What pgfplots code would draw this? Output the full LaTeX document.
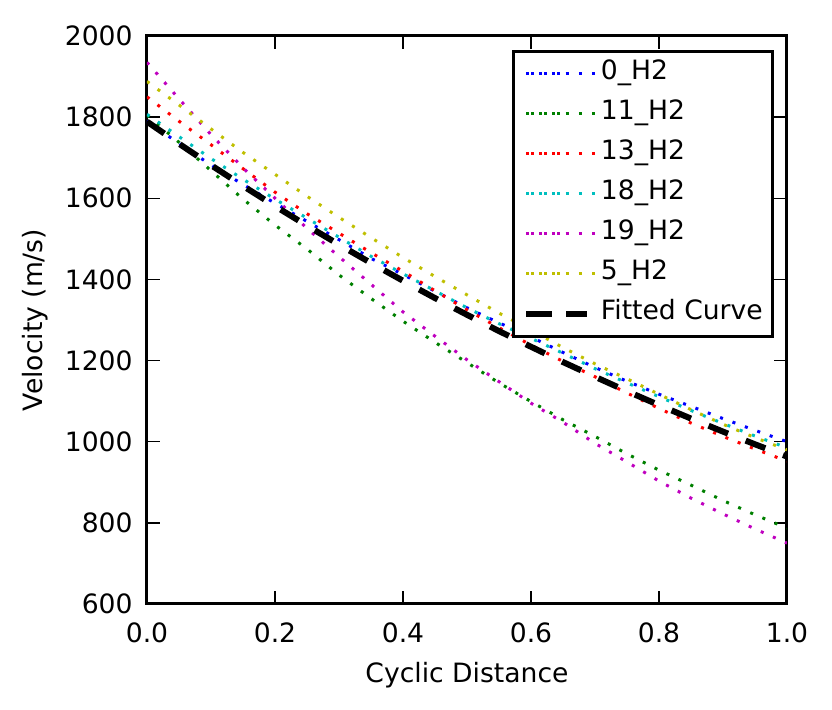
\documentclass[border=0pt]{standalone}
\usepackage{fontspec}
\setmainfont{DejaVu Sans}
\usepackage{pgfplots}
\pgfplotsset{compat=1.18}
\definecolor{mplb}{rgb}{0,0,1}
\definecolor{mplg}{rgb}{0,0.5,0}
\definecolor{mplr}{rgb}{1,0,0}
\definecolor{mplc}{rgb}{0,0.75,0.75}
\definecolor{mplm}{rgb}{0.75,0,0.75}
\definecolor{mply}{rgb}{0.75,0.75,0}
\begin{document}
\fontsize{13.3}{16}\selectfont
\begin{tikzpicture}
\useasboundingbox (-73.5pt,-53pt) rectangle (342.5pt,302pt);
\begin{axis}[
  at={(0,0)}, anchor=south west,
  scale only axis, width=320pt, height=284pt,
  xmin=0, xmax=1, ymin=600, ymax=2000,
  xtick={0,0.2,0.4,0.6,0.8,1}, xticklabels={0.0,0.2,0.4,0.6,0.8,1.0},
  ytick={600,800,1000,1200,1400,1600,1800,2000},
  yticklabels={600,800,1000,1200,1400,1600,1800,2000},
  tick align=inside, tick pos=both, minor tick num=0,
  major tick length=6.5pt,
  every tick/.style={black, line width=0.7pt},
  axis line style={black, line width=1.5pt},
  xticklabel style={anchor=base, inner sep=0pt, yshift=-19.35pt, font=\fontsize{13.3}{16}\selectfont},
  yticklabel style={anchor=east, inner sep=0pt, xshift=-7pt, font=\fontsize{13.3}{16}\selectfont},
  xlabel={Cyclic Distance}, ylabel={Velocity (m/s)},
  every axis x label/.style={at={(axis description cs:0.5,0)}, anchor=center, yshift=-35.5pt, font=\fontsize{13.3}{16}\selectfont},
  every axis y label/.style={at={(axis description cs:0,0.5)}, xshift=-56pt, anchor=center, rotate=90, font=\fontsize{13.3}{16}\selectfont},
  legend cell align=left,
  legend image code/.code={\draw[#1] (0pt,0pt) -- (15pt,0pt); \path (-2.5pt,0pt) -- (33.5pt,0pt);},
  legend style={at={(1,1)}, anchor=north east, xshift=-6.35pt, yshift=-7pt,
    draw=black, line width=1.5pt, inner xsep=5pt, inner ysep=1.25pt,
    row sep=0pt, font=\fontsize{13.3}{16}\selectfont,
    nodes={inner sep=0pt, text height=13pt, text depth=7pt}},
  dotline/.style={line width=1.5pt, line cap=butt, dash pattern=on 1.5pt off 5.1pt},
]
\addplot[dotline, mplb] coordinates {
(0,1790) (0.05,1735) (0.1,1682) (0.15,1634) (0.2,1588) (0.25,1543) (0.3,1498) (0.35,1452) (0.4,1412) (0.45,1371) (0.5,1330) (0.55,1293) (0.6,1258) (0.65,1220) (0.7,1183) (0.75,1149) (0.8,1117) (0.85,1087) (0.9,1057) (0.95,1028) (1.0,1000)};
\addlegendentry{0\_H2}
\addplot[dotline, mplg] coordinates {
(0,1805) (0.05,1738) (0.1,1668) (0.15,1598) (0.2,1534) (0.25,1475) (0.3,1411) (0.35,1353) (0.4,1297) (0.45,1245) (0.5,1195) (0.55,1145) (0.6,1099) (0.65,1054) (0.7,1013) (0.75,970) (0.8,930) (0.85,893) (0.9,855) (0.95,820) (1.0,787)};
\addlegendentry{11\_H2}
\addplot[dotline, mplr] coordinates {
(0,1850) (0.05,1790) (0.1,1732) (0.15,1673) (0.2,1615) (0.25,1562) (0.3,1514) (0.35,1466) (0.4,1420) (0.45,1372) (0.5,1325) (0.55,1281) (0.6,1238) (0.65,1198) (0.7,1160) (0.75,1120) (0.8,1082) (0.85,1046) (0.9,1013) (0.95,982) (1.0,952)};
\addlegendentry{13\_H2}
\addplot[dotline, mplc] coordinates {
(0,1807) (0.05,1752) (0.1,1698) (0.15,1647) (0.2,1598) (0.25,1551) (0.3,1504) (0.35,1457) (0.4,1414) (0.45,1372) (0.5,1330) (0.55,1291) (0.6,1255) (0.65,1218) (0.7,1180) (0.75,1145) (0.8,1111) (0.85,1077) (0.9,1045) (0.95,1014) (1.0,985)};
\addlegendentry{18\_H2}
\addplot[dotline, mplm] coordinates {
(0,1935) (0.05,1845) (0.1,1757) (0.15,1675) (0.2,1600) (0.25,1526) (0.3,1456) (0.35,1388) (0.4,1320) (0.45,1260) (0.5,1202) (0.55,1148) (0.6,1095) (0.65,1048) (0.7,996) (0.75,950) (0.8,903) (0.85,861) (0.9,822) (0.95,785) (1.0,750)};
\addlegendentry{19\_H2}
\addplot[dotline, mply] coordinates {
(0,1888) (0.05,1830) (0.1,1771) (0.15,1713) (0.2,1659) (0.25,1605) (0.3,1553) (0.35,1503) (0.4,1454) (0.45,1407) (0.5,1362) (0.55,1317) (0.6,1275) (0.65,1232) (0.7,1192) (0.75,1155) (0.8,1117) (0.85,1079) (0.9,1043) (0.95,1010) (1.0,980)};
\addlegendentry{5\_H2}
\addplot[black, line width=3pt, line cap=butt, dash pattern=on 10.5pt off 9.5pt] coordinates {
(0,1789) (0.05,1734.5) (0.1,1681.7) (0.15,1630.4) (0.2,1580.7) (0.25,1532.5) (0.3,1485.8) (0.35,1440.5) (0.4,1396.7) (0.45,1354.0) (0.5,1312.8) (0.55,1272.7) (0.6,1234.0) (0.65,1196.3) (0.7,1160.0) (0.75,1124.5) (0.8,1090.2) (0.85,1057.0) (0.9,1024.9) (0.95,993.6) (1.0,963.4)};
\addlegendentry{Fitted Curve}
\end{axis}
\end{tikzpicture}
\end{document}
